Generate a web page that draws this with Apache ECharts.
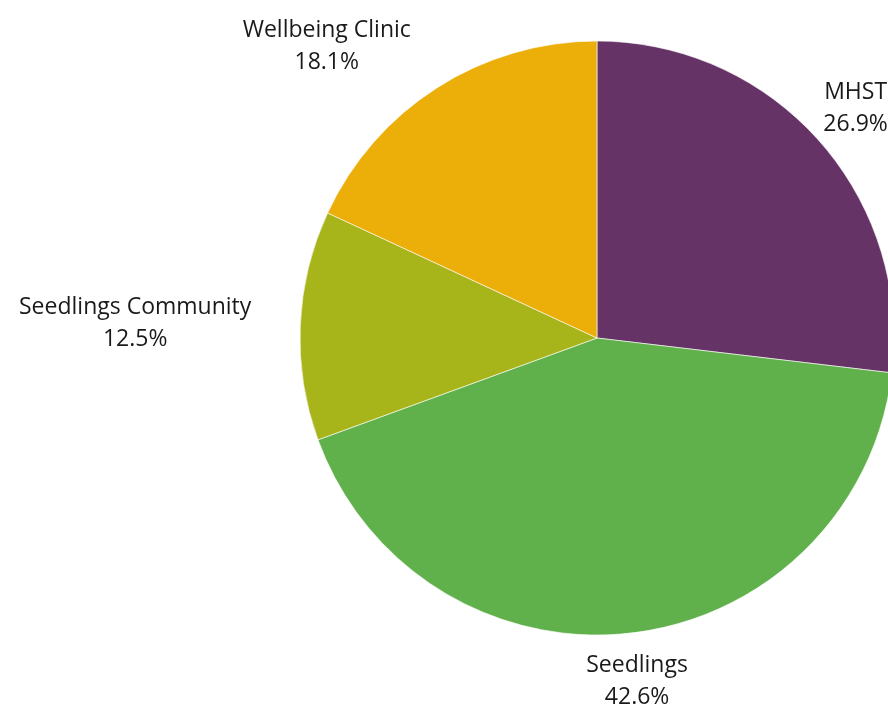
<!DOCTYPE html>
<html>
<head>
<meta charset="utf-8">
<style>
  html, body { margin: 0; padding: 0; background: #ffffff; }
  #chart { width: 888px; height: 711px; }
</style>
<script src="https://cdn.jsdelivr.net/npm/echarts@6/dist/echarts.min.js"></script>
</head>
<body>
<div id="chart"></div>
<script>
// Share of referrals by service
const services = ['MHST', 'Seedlings', 'Seedlings Community', 'Wellbeing Clinic'];
const shares = [26.9, 42.6, 12.5, 18.1];
const colors = ['#663366', '#60b14b', '#a7b51a', '#ecae08'];

const CX = 597, CY = 338, R = 297, LABEL_GAP = 49;

const total = shares.reduce((a, b) => a + b, 0);

// Place each label at the point just outside its slice's middle;
// if a centred label would overlap the disc, slide it sideways so its edge sits there.
function placeLabel(params) {
  const i = params.dataIndex;
  let before = 0;
  for (let k = 0; k < i; k++) before += shares[k];
  const mid = (before + shares[i] / 2) / total * Math.PI * 2;
  const dx = Math.sin(mid), dy = -Math.cos(mid);
  const ax = CX + dx * (R + LABEL_GAP);
  const ay = CY + dy * (R + LABEL_GAP);
  const w = params.labelRect.width, h = params.labelRect.height;
  let x = ax, y = ay;
  const nx = Math.max(x - w / 2, Math.min(CX, x + w / 2));
  const ny = Math.max(y - h / 2, Math.min(CY, y + h / 2));
  if (Math.hypot(nx - CX, ny - CY) < R) {
    x = dx < 0 ? ax - w / 2 : ax + w / 2;
  }
  return { x: x, y: y, align: 'center', verticalAlign: 'middle' };
}

const chart = echarts.init(document.getElementById('chart'));
chart.setOption({
  backgroundColor: '#ffffff',
  animation: false,
  series: [{
    type: 'pie',
    center: [CX, CY],
    radius: R,
    startAngle: 90,
    clockwise: true,
    avoidLabelOverlap: false,
    itemStyle: { borderColor: '#ffffff', borderWidth: 0.6 },
    label: {
      show: true,
      position: 'outside',
      formatter: p => p.name + '\n' + p.value.toFixed(1) + '%',
      fontFamily: '"Open Sans", "Noto Sans", sans-serif',
      fontSize: 23,
      lineHeight: 32,
      color: '#1a1a1a',
      align: 'center'
    },
    labelLine: { show: false },
    labelLayout: placeLabel,
    data: services.map((s, i) => ({
      name: s,
      value: shares[i],
      itemStyle: { color: colors[i] }
    }))
  }]
});
</script>
</body>
</html>
